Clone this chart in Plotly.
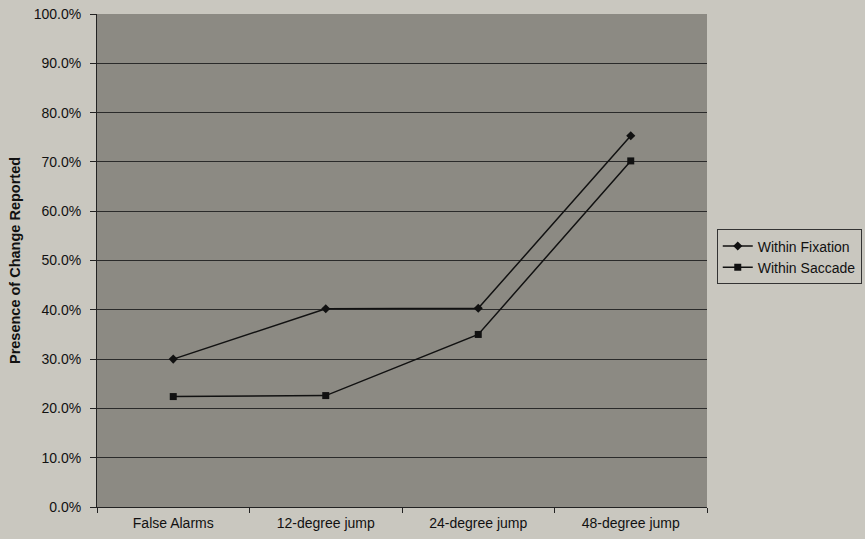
import plotly.graph_objects as go

categories = ["False Alarms", "12-degree jump", "24-degree jump", "48-degree jump"]
within_fixation = [0.300, 0.402, 0.403, 0.753]
within_saccade = [0.224, 0.226, 0.350, 0.702]
series_names = ["Within Fixation", "Within Saccade"]
y_title = "Presence of Change Reported"

font_family = "Arial, Liberation Sans, sans-serif"

fig = go.Figure()
fig.add_trace(go.Scatter(
    x=categories, y=within_fixation, name=series_names[0], mode="lines+markers",
    line=dict(color="#111111", width=1.5),
    marker=dict(symbol="diamond", size=7, color="#111111"),
))
fig.add_trace(go.Scatter(
    x=categories, y=within_saccade, name=series_names[1], mode="lines+markers",
    line=dict(color="#111111", width=1.5),
    marker=dict(symbol="square", size=7, color="#111111"),
))

fig.update_layout(
    width=865, height=539,
    margin=dict(l=97, r=158, t=14, b=32, autoexpand=False),
    paper_bgcolor="#c9c7bf",
    plot_bgcolor="#8c8a83",
    font=dict(family=font_family, size=14, color="#111111"),
    showlegend=True,
    legend=dict(
        x=1.016, y=0.563, xanchor="left", yanchor="top",
        bgcolor="rgba(0,0,0,0)", bordercolor="#333333", borderwidth=1,
        font=dict(family=font_family, size=14, color="#111111"),
        itemwidth=30, tracegroupgap=0,
    ),
    xaxis=dict(
        type="category", tickson="boundaries", ticks="outside", ticklen=5,
        tickcolor="#222222", showline=True, linecolor="#222222", linewidth=1,
        showgrid=False, mirror=False, ticklabelstandoff=3,
        tickfont=dict(family=font_family, size=14, color="#111111"),
        range=[-0.5, 3.5],
    ),
    yaxis=dict(
        range=[0, 1], dtick=0.1, tickformat=".1%",
        ticks="outside", ticklen=6, tickcolor="#222222",
        showline=True, linecolor="#222222", linewidth=1,
        showgrid=True, gridcolor="#2a2a2a", gridwidth=1,
        zeroline=False, ticklabelstandoff=6,
        tickfont=dict(family=font_family, size=14, color="#111111"),
        title=dict(text=y_title, standoff=9,
                   font=dict(family=font_family, size=14.5, color="#111111", weight="bold")),
    ),
)

fig.write_html("out.html")
